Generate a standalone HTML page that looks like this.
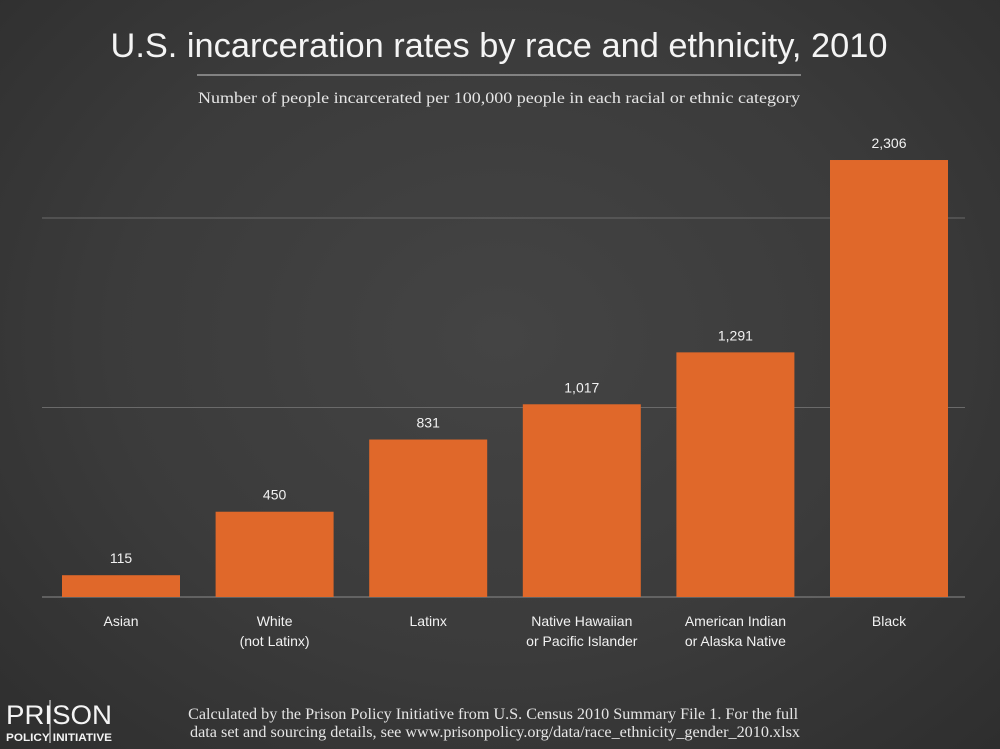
<!DOCTYPE html>
<html><head><meta charset="utf-8"><style>
html,body{margin:0;padding:0;}
body{width:1000px;height:749px;overflow:hidden;background:radial-gradient(ellipse at 50% 45%,#444 0%,#3b3b3b 55%,#2e2e2e 100%);font-family:"Liberation Sans",sans-serif;}
svg{display:block}
</style></head><body>
<svg id="chart" width="1000" height="749" viewBox="0 0 1000 749">
<text x="499" y="57" text-anchor="middle" fill="#f4f4f4" font-size="34" textLength="777" lengthAdjust="spacingAndGlyphs" font-family="Liberation Sans, sans-serif">U.S. incarceration rates by race and ethnicity, 2010</text>
<line x1="197" y1="75" x2="801" y2="75" stroke="#9a9a9a" stroke-width="1.5"/>
<text x="499" y="103" text-anchor="middle" fill="#e6e6e6" font-size="16" textLength="602" lengthAdjust="spacingAndGlyphs" font-family="Liberation Serif, serif">Number of people incarcerated per 100,000 people in each racial or ethnic category</text>
<g id="grid"></g>
<g id="bars"></g>
<g id="labels"></g>
<g>
<text x="6" y="724" fill="#f4f4f4" font-size="27" textLength="106" lengthAdjust="spacingAndGlyphs" font-family="Liberation Sans, sans-serif">PRISON</text>
<text x="6" y="741" fill="#f4f4f4" font-size="11" font-weight="bold" textLength="106" lengthAdjust="spacingAndGlyphs" font-family="Liberation Sans, sans-serif">POLICY INITIATIVE</text>
<line x1="50" y1="700" x2="50" y2="743" stroke="#f4f4f4" stroke-width="1"/>
</g>
<text fill="#e6e6e6" font-size="15.5" font-family="Liberation Serif, serif" text-anchor="middle">
<tspan x="495" y="719" textLength="610" lengthAdjust="spacingAndGlyphs">Calculated by the Prison Policy Initiative from U.S. Census 2010 Summary File 1. For the full</tspan>
<tspan x="495" y="737" textLength="610" lengthAdjust="spacingAndGlyphs">data set and sourcing details, see www.prisonpolicy.org/data/race_ethnicity_gender_2010.xlsx</tspan>
</text>
</svg>
<script>
const categories=[["Asian"],["White","(not Latinx)"],["Latinx"],["Native Hawaiian","or Pacific Islander"],["American Indian","or Alaska Native"],["Black"]];
const values=[115,450,831,1017,1291,2306];
const valueLabels=["115","450","831","1,017","1,291","2,306"];
const gridValues=[0,1000,2000];
const NS="http://www.w3.org/2000/svg";
const baseY=597, pxPerUnit=0.1895, x0=62, step=153.6, bw=118;
function y(v){return baseY-v*pxPerUnit;}
function x(i){return x0+i*step;}
function mk(t,a){const e=document.createElementNS(NS,t);for(const k in a)e.setAttribute(k,a[k]);return e;}
const grid=document.getElementById('grid'),bars=document.getElementById('bars'),labels=document.getElementById('labels');
gridValues.forEach(g=>{
 const l=mk('line',{x1:42,x2:965,y1:y(g),y2:y(g),stroke:g===0?'#8a8a8a':'#6a6a6a','stroke-width':1});
 
 
 grid.appendChild(l);
});
values.forEach((v,i)=>{
 const r=mk('rect',{x:x(i),y:y(v),width:bw,height:baseY-y(v),fill:'#e0682a'});
 
 
 bars.appendChild(r);
 const t=mk('text',{x:x(i)+bw/2,y:y(v)-12,'text-anchor':'middle',fill:'#f2f2f2','font-size':14});
 t.textContent=valueLabels[i];
 
 
 labels.appendChild(t);
 categories[i].forEach((line,j)=>{
  const c=mk('text',{x:x(i)+bw/2,y:626+j*20,'text-anchor':'middle',fill:'#f2f2f2','font-size':14});
  c.textContent=line;
  
  
  labels.appendChild(c);
 });
});
</script>
</body></html>
